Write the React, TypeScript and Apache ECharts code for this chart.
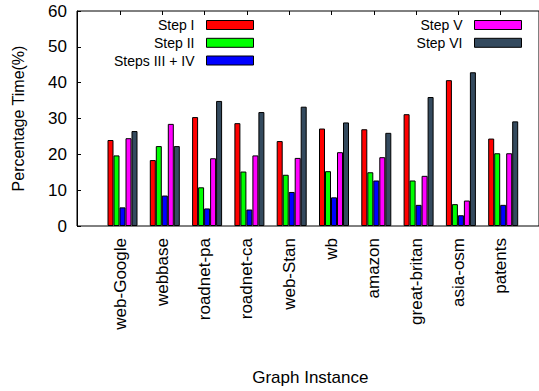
import React, { useEffect, useRef } from "react";
import * as echarts from "echarts";

const categories = [
  "web-Google", "webbase", "roadnet-pa", "roadnet-ca", "web-Stan",
  "wb", "amazon", "great-britan", "asia-osm", "patents",
];
const stepI = [24.0, 18.4, 30.4, 28.7, 23.7, 27.2, 27.0, 31.2, 40.7, 24.4];
const stepII = [19.7, 22.3, 10.8, 15.2, 14.3, 15.3, 15.0, 12.7, 6.1, 20.3];
const stepsIIIIV = [5.2, 8.5, 4.9, 4.6, 9.5, 8.0, 12.7, 5.9, 3.0, 5.9];
const stepV = [24.5, 28.5, 18.9, 19.7, 19.0, 20.6, 19.2, 14.0, 7.1, 20.3];
const stepVI = [26.5, 22.3, 34.9, 31.8, 33.3, 28.9, 26.0, 36.0, 42.9, 29.2];
const yTicks = { min: 0, max: 60, interval: 10 };

const FONT = "'Liberation Sans', Arial, Helvetica, sans-serif";

export default function App() {
  const ref = useRef<HTMLDivElement>(null);
  useEffect(() => {
    if (!ref.current) return;
    const chart = echarts.init(ref.current, undefined, { renderer: "svg" });
    const seriesDefs = [
      { name: "Step I", data: stepI, color: "#ff0000" },
      { name: "Step II", data: stepII, color: "#00ff00" },
      { name: "Steps III + IV", data: stepsIIIIV, color: "#0000ff" },
      { name: "Step V", data: stepV, color: "#ff00ff" },
      { name: "Step VI", data: stepVI, color: "#344a5e" },
    ];
    const legendPos = [
      { right: 285, top: 18 },
      { right: 285, top: 35.8 },
      { right: 285, top: 53.5 },
      { right: 17, top: 18 },
      { right: 17, top: 35.8 },
    ];
    const gridTop = 11;
    const gridH = 215;
    chart.setOption({
      animation: false,
      textStyle: { fontFamily: FONT },
      grid: [
        { left: 77, top: gridTop, width: 480, height: gridH, show: true, borderColor: "#000", borderWidth: 1 },
        { left: 101.35, top: gridTop, width: 423, height: gridH },
        { left: 98.85, top: gridTop, width: 423, height: gridH },
      ],
      xAxis: [
        { gridIndex: 0, type: "value", min: 0, max: 1, show: false },
        { gridIndex: 1, type: "category", data: categories, show: false },
        {
          gridIndex: 2,
          type: "category",
          data: categories,
          position: "bottom",
          axisLine: { show: false },
          axisTick: { show: false },
          axisLabel: { rotate: 90, fontSize: 17, color: "#000", margin: 12, fontFamily: FONT, interval: 0 },
          name: "Graph Instance",
          nameLocation: "middle",
          nameGap: 143,
          nameTextStyle: { fontSize: 17, color: "#000", fontFamily: FONT },
        },
        {
          gridIndex: 2,
          type: "category",
          data: categories,
          position: "top",
          axisLine: { show: false },
          axisTick: { show: true, inside: true, length: 4, alignWithLabel: true, interval: 0, lineStyle: { color: "#000" } },
          axisLabel: { show: false },
        },
      ],
      yAxis: [
        {
          gridIndex: 0,
          type: "value",
          min: yTicks.min,
          max: yTicks.max,
          interval: yTicks.interval,
          axisLine: { show: true, lineStyle: { color: "#000" } },
          axisTick: { show: true, inside: true, length: 4, lineStyle: { color: "#000" } },
          axisLabel: { fontSize: 17, color: "#000", margin: 10, fontFamily: FONT },
          splitLine: { show: false },
          name: "Percentage Time(%)",
          nameLocation: "middle",
          nameGap: 51,
          nameTextStyle: { fontSize: 16, color: "#000", fontFamily: FONT },
        },
        { gridIndex: 1, type: "value", min: yTicks.min, max: yTicks.max, show: false },
        { gridIndex: 2, type: "value", min: yTicks.min, max: yTicks.max, show: false },
      ],
      legend: seriesDefs.map((s, i) => ({
        data: [s.name],
        right: legendPos[i].right,
        top: legendPos[i].top,
        orient: "vertical",
        align: "right",
        padding: 0,
        itemWidth: 47,
        itemHeight: 9,
        icon: "rect",
        selectedMode: false,
        itemStyle: { borderColor: "#000", borderWidth: 1 },
        textStyle: { fontSize: 14, color: "#000", fontFamily: FONT, padding: [0, 7, 0, 0] },
      })),
      series: seriesDefs.map((s) => ({
        name: s.name,
        type: "bar",
        xAxisIndex: 1,
        yAxisIndex: 1,
        data: s.data,
        barWidth: 6,
        barGap: "0%",
        itemStyle: { color: s.color, borderColor: "#000", borderWidth: 1 },
      })),
    });
    return () => chart.dispose();
  }, []);
  return (
    <div
      ref={ref}
      style={{ position: "fixed", left: 0, top: 0, width: 539, height: 391, background: "#fff" }}
    />
  );
}
